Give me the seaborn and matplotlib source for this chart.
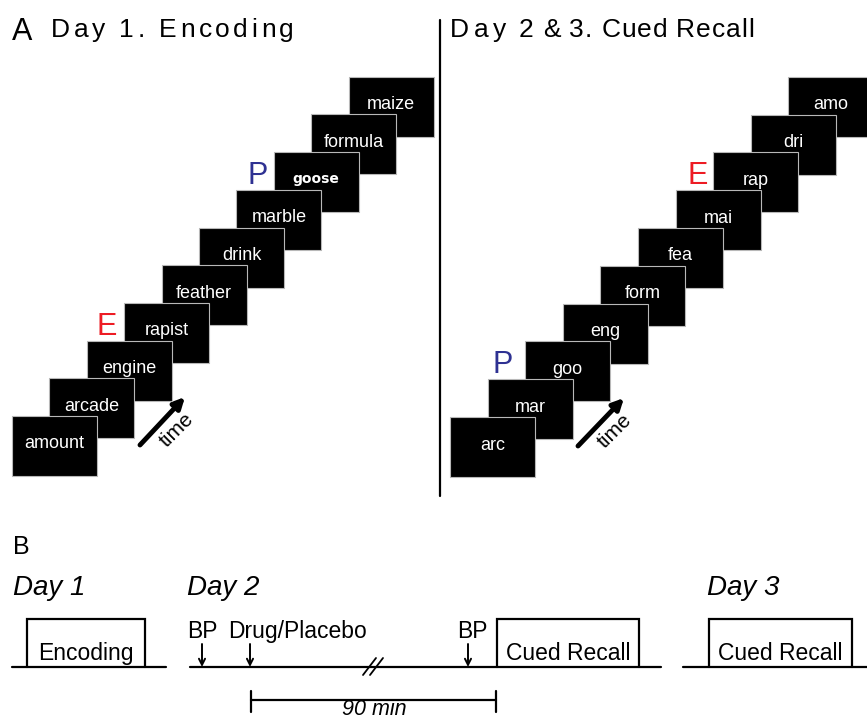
import matplotlib
matplotlib.use("Agg")
import matplotlib.pyplot as plt
import seaborn as sns
from matplotlib.patches import Rectangle
from matplotlib.font_manager import FontProperties

# ==============================
# DATA
# ==============================

encoding_words = ['amount', 'arcade', 'engine', 'rapist', 'feather',
                  'drink', 'marble', 'goose', 'formula', 'maize']
recall_cues = ['arc', 'mar', 'goo', 'eng', 'form',
               'fea', 'mai', 'rap', 'dri', 'amo']

encoding_tag_idx = [3, 7]
encoding_tag_txt = ['E', 'P']
recall_tag_idx = [2, 7]
recall_tag_txt = ['P', 'E']

day_labels = ['Day 1', 'Day 2', 'Day 3']
box_labels = ['Encoding', 'Cued Recall', 'Cued Recall']
event_labels = ['BP', 'Drug/Placebo', 'BP']
interval_label = '90 min'

tag_colors = {'E': '#ed1c24', 'P': '#2e3192'}

# ==============================
# FIGURE SETUP
# ==============================

sns.set_style('white')
plt.rcParams['font.family'] = ['Liberation Sans', 'DejaVu Sans']
plt.rcParams['text.color'] = 'black'

W, H = 867, 721
fig = plt.figure(figsize=(W / 100, H / 100), dpi=100)
ax = fig.add_axes([0, 0, 1, 1])
ax.set_xlim(0, W)
ax.set_ylim(H, 0)
ax.axis('off')

renderer = fig.canvas.get_renderer()


def char_advance(c, size):
    # advance width in pixels (1 px == 1 data unit here)
    prop = FontProperties(family=['Liberation Sans'], size=size)
    w1, _, _ = renderer.get_text_width_height_descent('|' + c + '|', prop, ismath=False)
    w0, _, _ = renderer.get_text_width_height_descent('||', prop, ismath=False)
    return w1 - w0


def spaced_text(x, y, s, size, spacing):
    for c in s:
        ax.text(x, y, c, fontsize=size, ha='left', va='baseline')
        x += char_advance(c, size) + spacing
    return x


# ==============================
# PANEL A: CARD STACKS
# ==============================

CARD_W, CARD_H = 85, 60


def draw_stack(words, x0, y0, dx, dy, tag_idx, tag_txt, tag_dx):
    for i, word in enumerate(words):
        x = x0 + dx * i
        y = y0 + dy * i
        z = 100 - 2 * i
        ax.add_patch(Rectangle((x, y), CARD_W, CARD_H, facecolor='black',
                               edgecolor='#b8b8b8', lw=0.8, zorder=z))
        if word == 'goose':
            ax.text(x + CARD_W / 2, y + CARD_H / 2 - 3, word, color='white',
                    fontsize=10, fontweight='heavy', family='DejaVu Sans',
                    ha='center', va='center', zorder=z + 1)
        else:
            ax.text(x + CARD_W / 2, y + CARD_H / 2 - 2, word, color='white',
                    fontsize=13, ha='center', va='center', zorder=z + 1)
    for k, t, dxx in zip(tag_idx, tag_txt, tag_dx):
        ax.text(x0 + dx * k + dxx, y0 + dy * k + 32, t, color=tag_colors[t],
                fontsize=22, ha='left', va='baseline')


draw_stack(encoding_words, 12, 416, 37.4, -37.7,
           encoding_tag_idx, encoding_tag_txt, [-28, -26])
draw_stack(recall_cues, 450, 417, 37.6, -37.8,
           recall_tag_idx, recall_tag_txt, [-33, -26])

# time arrows
for tail, tip, lab in [((140, 445), (185, 397), (177, 430)),
                       ((578, 446), (624, 398), (615, 431))]:
    ax.annotate('', xy=tip, xytext=tail,
                arrowprops=dict(arrowstyle='-|>', lw=3.5, color='black',
                                mutation_scale=16, shrinkA=0, shrinkB=0))
    ax.text(lab[0], lab[1], 'time', fontsize=15, rotation=45,
            rotation_mode='anchor', ha='center', va='center')

# titles
ax.text(12, 40, 'A', fontsize=22, ha='left', va='baseline')
spaced_text(51, 37, 'Day 1. Encoding', 19, 3.5)
xx = spaced_text(450, 37, 'Day', 19, 4.5)
spaced_text(xx, 37, ' 2 & 3. Cued Recall', 19, 0.9)

# divider
ax.plot([440, 440], [20, 496], color='black', lw=1.6)

# ==============================
# PANEL B: TIMELINE
# ==============================

ax.text(13, 554, 'B', fontsize=18, ha='left', va='baseline')

TL_Y = 667
BOX_TOP = 619
LW = 1.6

for lab, x in zip(day_labels, [13, 187, 707]):
    ax.text(x, 595, lab, fontsize=20, style='italic', ha='left', va='baseline')

for (l0, l1) in [(12, 166), (190, 661), (683, 867)]:
    ax.plot([l0, l1], [TL_Y, TL_Y], color='black', lw=LW)

for lab, (b0, b1) in zip(box_labels, [(27, 145), (497, 639), (709, 852)]):
    ax.plot([b0, b0, b1, b1], [TL_Y, BOX_TOP, BOX_TOP, TL_Y],
            color='black', lw=LW, solid_joinstyle='miter')
    ax.text((b0 + b1) / 2, 660, lab, fontsize=16.5, ha='center', va='baseline')

for lab, tx, ax_x in zip(event_labels, [187, 228, 457], [202, 250, 468]):
    ax.text(tx, 638, lab, fontsize=16.5, ha='left', va='baseline')
    ax.annotate('', xy=(ax_x, TL_Y), xytext=(ax_x, 644),
                arrowprops=dict(arrowstyle='->', lw=1.4, color='black',
                                mutation_scale=11, shrinkA=0, shrinkB=0))

# break mark
for off in [0, 7]:
    ax.plot([363 + off, 376 + off], [675, 658], color='black', lw=1.3)

# 90 min interval
ax.plot([251, 496], [700, 700], color='black', lw=LW)
ax.plot([251, 251], [691, 712], color='black', lw=LW)
ax.plot([496, 496], [691, 712], color='black', lw=LW)
ax.text(374, 715, interval_label, fontsize=15.5, style='italic',
        ha='center', va='baseline')

fig.savefig('out.png', dpi=100)
